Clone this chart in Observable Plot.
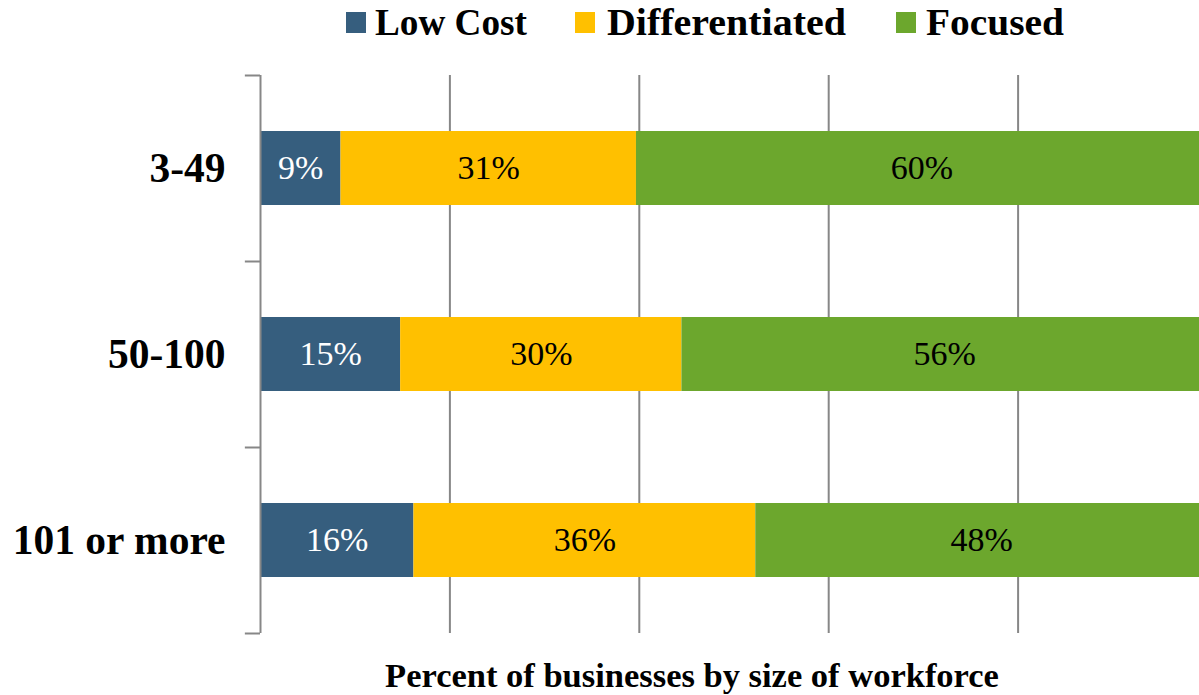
<!DOCTYPE html>
<html><head><meta charset="utf-8">
<script src="https://cdn.jsdelivr.net/npm/d3@7"></script>
<script src="https://cdn.jsdelivr.net/npm/@observablehq/plot@0.6"></script>
<style>
body{margin:0;background:#fff;overflow:hidden}
#wrap{position:relative;width:1199px;height:695px;overflow:hidden;font-family:"Liberation Serif",serif}
#legend{position:relative;height:50px;font-weight:bold;font-size:38px}
.txt{position:absolute;top:2px;line-height:40px;white-space:nowrap;color:#000;transform-origin:0 50%}
.sw{position:absolute;top:12px;width:20px;height:21px}
#caption{position:absolute;left:0;width:1384px;top:655px;text-align:center;font-weight:bold;font-size:34.5px;line-height:40px;white-space:nowrap}
</style></head>
<body><div id="wrap"><div id="legend"></div><div id="chart"></div><div id="caption"></div></div>
<script>
const categories = ["3-49", "50-100", "101 or more"];
const series = ["Low Cost", "Differentiated", "Focused"];
const lowCost = [8.5, 14.8, 16.2];
const differentiated = [31.2, 29.7, 36.1];
const focused = [60.3, 55.5, 47.7];
const lowCostLabels = ["9%", "15%", "16%"];
const differentiatedLabels = ["31%", "30%", "36%"];
const focusedLabels = ["60%", "56%", "48%"];
const colors = ["#365E7E", "#FFC000", "#6CA72D"];
const gridTicks = [20, 40, 60, 80];
const xTitle = "Percent of businesses by size of workforce";

const seriesValues = [lowCost, differentiated, focused];
const seriesLabels = [lowCostLabels, differentiatedLabels, focusedLabels];
const data = [];
series.forEach((s, si) => categories.forEach((c, ci) => data.push({category: c, series: s, value: seriesValues[si][ci], label: seriesLabels[si][ci]})));

// legend
const legend = document.getElementById("legend");
const swX = [346, 575, 896], txX = [375, 607, 926], txW = [152, 239, 138];
series.forEach((s, i) => {
  const sw = document.createElement("div"); sw.className = "sw"; sw.style.left = swX[i] + "px"; sw.style.background = colors[i]; legend.appendChild(sw);
  const t = document.createElement("div"); t.className = "txt"; t.style.left = txX[i] + "px"; t.textContent = s; legend.appendChild(t);
  const w = t.getBoundingClientRect().width;
  if (w > 0) t.style.transform = `scaleX(${txW[i] / w})`;
});
document.getElementById("caption").textContent = xTitle;

const axisColor = "#878787";
const chart = Plot.plot({
  width: 1199, height: 595,
  marginLeft: 260, marginRight: -8, marginTop: 25, marginBottom: 12,
  style: {fontFamily: "Liberation Serif", background: "white", overflow: "hidden"},
  x: {domain: [0, 100], axis: null},
  y: {domain: categories, axis: null, paddingInner: 0.6, paddingOuter: 0.3},
  color: {domain: series, range: colors},
  marks: [
    Plot.ruleX(gridTicks, {stroke: axisColor, strokeWidth: 2}),
    Plot.barX(data, Plot.stackX({x: "value", y: "category", fill: "series", order: series})),
    Plot.text(data, Plot.stackX({x: "value", y: "category", z: "series", order: series, text: "label", fill: d => d.series === "Low Cost" ? "white" : "black", fontSize: 34})),
    Plot.ruleX([0], {stroke: axisColor, strokeWidth: 2}),
    Plot.ruleY(categories, {y: d => d, x1: -1.6, x2: 0, dy: -93, stroke: axisColor, strokeWidth: 2}),
    Plot.ruleY([categories[categories.length - 1]], {y: d => d, x1: -1.6, x2: 0, dy: 93, stroke: axisColor, strokeWidth: 2}),
    Plot.text(categories, {x: 0, y: d => d, text: d => d, textAnchor: "end", dx: -35, fontSize: 41.5, fontWeight: "bold", fill: "black"})
  ]
});
document.getElementById("chart").appendChild(chart);
</script></body></html>
